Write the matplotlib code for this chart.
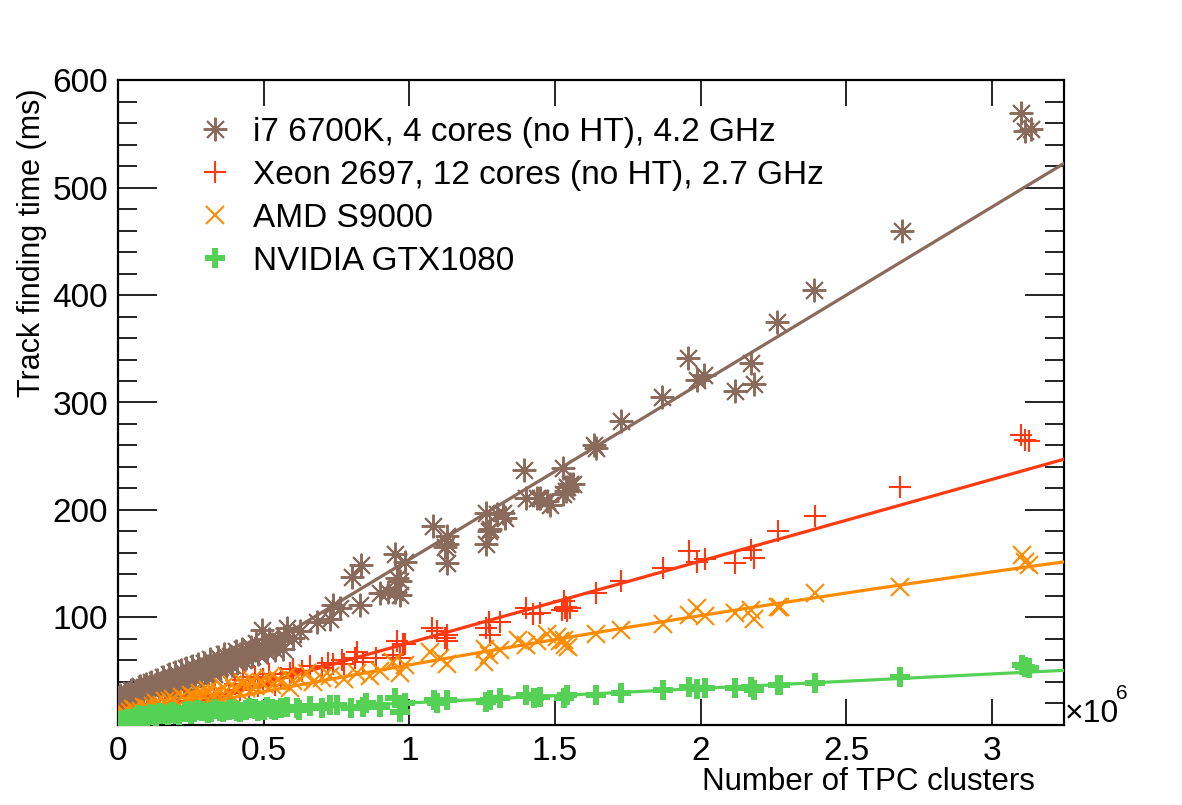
import matplotlib
matplotlib.use("Agg")
import matplotlib.pyplot as plt
from matplotlib.lines import Line2D
import numpy as np

plt.rcParams['font.family'] = ['Liberation Sans', 'DejaVu Sans']

# ---------------- data (x in units of 1e6 TPC clusters, y in ms) ----------------
x_i7 = [3.099, 3.114, 3.132, 2.689, 2.387, 2.263, 2.174, 2.181, 2.119, 2.012, 1.987, 1.957,
        1.868, 1.727, 1.641, 1.632, 1.528, 1.540, 1.552, 1.528, 1.563, 1.537, 1.484, 1.471,
        1.450, 1.437, 1.400, 1.395, 1.328, 1.300, 1.322, 1.277, 1.264, 1.272, 1.264, 1.128,
        1.128, 1.128, 1.081, 1.123, 0.986, 0.951, 0.968, 0.968, 0.957, 0.951, 0.928, 0.900,
        0.834, 0.802, 0.831, 0.762, 0.739, 0.728, 0.682, 0.625, 0.602, 0.579, 0.567, 0.493,
        0.005, 0.010, 0.015, 0.020, 0.030, 0.035, 0.040, 0.050, 0.060, 0.065, 0.070, 0.080,
        0.090, 0.100, 0.110, 0.120, 0.130, 0.140, 0.150, 0.160, 0.170, 0.180, 0.190, 0.200,
        0.210, 0.220, 0.230, 0.240, 0.250, 0.260, 0.270, 0.280, 0.290, 0.300, 0.310, 0.320,
        0.330, 0.340, 0.350, 0.360, 0.370, 0.380, 0.390, 0.400, 0.410, 0.420, 0.430, 0.440,
        0.450, 0.460, 0.470, 0.480, 0.500, 0.510, 0.530, 0.550,
        0.002, 0.008, 0.012, 0.018, 0.025, 0.028, 0.045, 0.055, 0.075, 0.085, 0.095, 0.105,
        0.115, 0.125, 0.135, 0.145, 0.155, 0.165, 0.175, 0.185, 0.195, 0.205, 0.215, 0.225,
        0.235, 0.245, 0.255, 0.265, 0.275, 0.285, 0.295, 0.305, 0.315, 0.325, 0.345, 0.365,
        0.385, 0.405, 0.425, 0.455, 0.475, 0.520, 0.540, 0.570]
t_i7 = [569, 553, 554, 460, 405, 375, 337, 317, 311, 326, 321, 341,
        305, 283, 258, 260, 239, 221, 224, 215, 224, 218, 205, 208,
        211, 211, 211, 237, 193, 196, 197, 182, 197, 180, 168, 176,
        168, 151, 185, 166, 152, 159, 134, 121, 137, 124, 124, 123,
        149, 138, 112, 109, 112, 99, 96, 87, 81, 90, 71, 88.5,
        22, 25, 21, 27, 24, 30, 26, 28, 31, 27, 33, 30,
        35, 32, 36, 34, 38, 33, 40, 37, 42, 39, 36, 44,
        41, 46, 43, 40, 48, 45, 50, 47, 52, 49, 55, 51,
        47, 57, 54, 59, 52, 61, 56, 63, 58, 66, 60, 62,
        68, 64, 70, 66, 72, 68, 75, 78,
        18, 28, 24, 20, 29, 23, 33, 25, 36, 28, 38, 29,
        40, 31, 42, 36, 45, 34, 47, 38, 49, 37, 51, 40,
        53, 42, 55, 44, 57, 46, 58, 48, 61, 50, 63, 66,
        64, 69, 71, 73, 76, 80, 70, 83]

x_xeon = [3.099, 3.114, 3.126, 2.685, 2.392, 2.264, 2.174, 2.181, 2.119, 2.013, 1.987, 1.958,
          1.869, 1.727, 1.641, 1.529, 1.534, 1.540, 1.552, 1.537, 1.523, 1.450, 1.425, 1.400,
          1.312, 1.272, 1.264, 1.277, 1.128, 1.128, 1.094, 0.986, 0.968, 1.077, 1.123, 0.957,
          0.979, 0.944, 0.819, 0.813, 0.887, 0.842, 0.774, 0.739, 0.591, 0.539, 0.499, 0.350,
          0.010, 0.030, 0.050, 0.080, 0.100, 0.130, 0.160, 0.200, 0.230, 0.260, 0.300, 0.330,
          0.380, 0.420, 0.450, 0.480,
          0.400, 0.430, 0.470, 0.520, 0.560, 0.600, 0.630, 0.660, 0.700, 0.720, 0.770]
t_xeon = [270, 265, 264, 221, 194, 180, 163, 155, 151, 154, 152, 162,
          146, 134, 123, 115, 109, 106, 109, 110, 107, 104, 103, 109,
          96, 96, 90, 84, 84, 78, 87, 75, 62, 90, 81, 78,
          75, 65, 68, 62, 62, 59, 57, 57, 48, 37, 43, 25,
          8, 10, 9, 12, 13, 15, 17, 20, 22, 21, 26, 28,
          30, 33, 35, 36,
          38, 42, 45, 47, 44, 52, 50, 55, 53, 58, 60]

x_amd = [3.103, 3.114, 3.126, 2.685, 2.392, 2.273, 2.264, 2.174, 2.181, 2.119, 2.013, 1.987,
         1.958, 1.869, 1.727, 1.641, 1.529, 1.534, 1.518, 1.546, 1.506, 1.471, 1.437, 1.400,
         1.374, 1.312, 1.272, 1.260, 1.255, 1.128, 1.105, 0.986, 0.968, 1.071, 0.944, 0.900,
         0.866, 0.819, 0.774, 0.728, 0.670, 0.625, 0.591,
         0.005, 0.020, 0.040, 0.060, 0.080, 0.100, 0.120, 0.150, 0.180, 0.200, 0.230, 0.260,
         0.290, 0.320, 0.350, 0.380, 0.410, 0.440, 0.470, 0.500, 0.530, 0.560,
         0.002, 0.010, 0.015, 0.030, 0.050, 0.070, 0.090, 0.110, 0.130, 0.140, 0.160, 0.170,
         0.190, 0.210, 0.220, 0.240, 0.250, 0.270, 0.280, 0.300, 0.310, 0.340, 0.360, 0.370,
         0.390, 0.400, 0.430, 0.450, 0.460, 0.490, 0.520, 0.550, 0.580, 0.600, 0.650, 0.700]
t_amd = [158, 152, 149, 128, 123, 110, 110, 107, 99, 104, 101, 109,
         102, 94, 88, 85, 79, 74, 78, 73, 82, 85, 78, 74,
         79, 70, 65, 71, 59, 57, 62, 56, 48, 68, 59, 50,
         46, 48, 43, 46, 40, 43, 34,
         8, 10, 12, 14, 13, 16, 18, 19, 22, 21, 24, 26,
         28, 27, 31, 30, 33, 34, 36, 38, 37, 40,
         4, 7, 11, 9, 15, 11, 17, 14, 20, 16, 22, 18,
         24, 19, 26, 22, 28, 24, 30, 27, 33, 29, 35, 32,
         37, 34, 39, 37, 42, 40, 44, 42, 46, 41, 48, 44]

x_gtx = [3.114, 3.103, 3.126, 2.685, 2.392, 2.273, 2.264, 2.174, 2.181, 2.119, 2.013, 1.987,
         1.958, 1.869, 1.727, 1.641, 1.540, 1.529, 1.450, 1.426, 1.400, 1.312, 1.277, 1.264,
         1.128, 1.094, 0.986, 0.968, 1.083, 0.951, 0.900, 0.842, 0.728, 0.613,
         0.005, 0.020, 0.040, 0.060, 0.080, 0.100, 0.120, 0.150, 0.180, 0.200, 0.230, 0.260,
         0.290, 0.320, 0.350, 0.380, 0.410, 0.440, 0.470, 0.500, 0.530, 0.560,
         0.002, 0.010, 0.015, 0.030, 0.045, 0.070, 0.090, 0.110, 0.130, 0.140, 0.170, 0.190,
         0.210, 0.240, 0.250, 0.270, 0.310, 0.330, 0.360, 0.390, 0.420, 0.450, 0.480, 0.510,
         0.540, 0.580, 0.620, 0.660, 0.700, 0.750, 0.800, 0.850, 0.900]
t_gtx = [54.3, 55.9, 52.7, 45, 38.7, 37.2, 37.2, 35.6, 32.5, 34, 34, 33.5,
         35.6, 32.5, 29.4, 27.9, 27.9, 24.7, 26.3, 24.7, 27.9, 24.7, 23.2, 21.6,
         23.2, 20, 20, 12.3, 23.2, 24.7, 18.6, 17, 18.6, 15.4,
         3, 5, 6, 7, 8, 8, 9, 10, 11, 10, 12, 12,
         13, 12, 13, 14, 13, 14, 15, 14, 15, 16,
         1, 4, 2, 6, 4, 9, 6, 10, 7, 11, 9, 12,
         9, 13, 10, 14, 11, 15, 12, 15, 12, 16, 13, 17,
         14, 17, 14, 18, 16, 19, 16, 20, 17]

# fit curves (coefficients a0, a1, a2 for x in 1e6)
fit_i7 = [-10.0, 164.0, 0.0]
fit_xeon = [0.5, 76.0, 0.0]
fit_amd = [4.8, 53.7, -2.6]
fit_gtx = [7.0, 13.5, 0.0]

labels = ["i7 6700K, 4 cores (no HT), 4.2 GHz",
          "Xeon 2697, 12 cores (no HT), 2.7 GHz",
          "AMD S9000",
          "NVIDIA GTX1080"]

c_i7 = '#8a6a5a'
c_xeon = '#ff3a10'
c_amd = '#ff8c00'
c_gtx = '#55d255'

XMAX = 3.245
YMIN, YMAX = 0, 600

fig = plt.figure(figsize=(11.82, 8.05), dpi=100)
ax = fig.add_axes([0.0998, 0.0994, 0.8, 0.8012])

star = (8, 2, 0)
xf = np.linspace(0, XMAX, 200)

def fitline(c):
    return c[0] + c[1] * xf + c[2] * xf ** 2

st_i7 = dict(linestyle='none', marker=star, ms=17, mew=1.4, color=c_i7)
st_xeon = dict(linestyle='none', marker='+', ms=16, mew=1.5, color=c_xeon)
st_amd = dict(linestyle='none', marker='x', ms=13, mew=1.5, color=c_amd)
st_gtx = dict(linestyle='none', marker='P', ms=14, mew=0, color=c_gtx)

ax.plot(x_i7, t_i7, zorder=3, **st_i7)
ax.plot(xf, fitline(fit_i7), color=c_i7, lw=2.3, zorder=4)
ax.plot(x_xeon, t_xeon, zorder=5, **st_xeon)
ax.plot(xf, fitline(fit_xeon), color=c_xeon, lw=2.3, zorder=6)
ax.plot(x_amd, t_amd, zorder=7, **st_amd)
ax.plot(xf, fitline(fit_amd), color=c_amd, lw=2.3, zorder=8)
ax.plot(x_gtx, t_gtx, zorder=9, **st_gtx)
ax.plot(xf, fitline(fit_gtx), color=c_gtx, lw=2.3, zorder=10)

ax.set_xlim(0, XMAX)
ax.set_ylim(YMIN, YMAX)

ax.set_xticks([0, 0.5, 1, 1.5, 2, 2.5, 3])
ax.set_xticklabels(['0', '0.5', '1', '1.5', '2', '2.5', '3'])
ax.set_yticks([0, 100, 200, 300, 400, 500, 600])
ax.set_yticklabels(['', '100', '200', '300', '400', '500', '600'])
ax.set_yticks(np.arange(0, 601, 20), minor=True)

ax.tick_params(axis='both', which='both', direction='in', colors='black', labelsize=24)
ax.tick_params(axis='x', which='major', length=19, width=1.2, top=True, bottom=True, pad=8)
ax.tick_params(axis='y', which='major', length=28, width=1.2, left=True, right=True, pad=7)
ax.tick_params(axis='y', which='minor', length=14, width=1.2, left=True, right=True)
for s in ax.spines.values():
    s.set_linewidth(1.6)

handles = [Line2D([], [], **st_i7), Line2D([], [], **st_xeon),
           Line2D([], [], **st_amd), Line2D([], [], **st_gtx)]
leg = ax.legend(handles, labels, loc='upper left', bbox_to_anchor=(195 / 1182, 1 - 117 / 805),
                bbox_transform=fig.transFigure, frameon=False, fontsize=24,
                handlelength=1.2, handletextpad=0.55, labelspacing=0.36, borderpad=0,
                borderaxespad=0)

fig.text(32 / 1182, 1 - 88 / 805, 'Track finding time (ms)', rotation=90,
         ha='center', va='top', fontsize=22)
fig.text(1035 / 1182, 1 - 782 / 805, 'Number of TPC clusters', ha='right', va='center',
         fontsize=22.5)
fig.text(1065 / 1182, 1 - 714 / 805, '×10', ha='left', va='center', fontsize=23)
fig.text(1116 / 1182, 1 - 693 / 805, '6', ha='left', va='center', fontsize=15)

fig.savefig('out.png', dpi=100)
